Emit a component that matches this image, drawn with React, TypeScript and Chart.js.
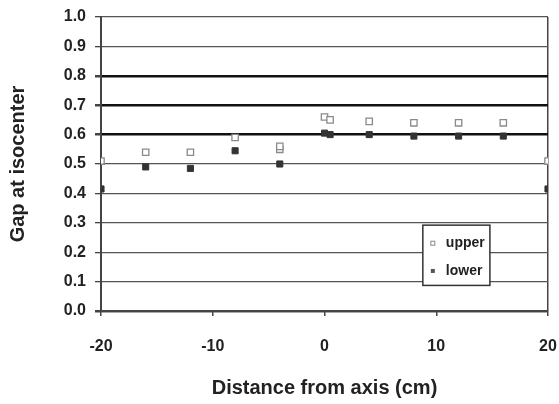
import React, { useEffect, useRef } from "react";
import { Chart, registerables } from "chart.js";

Chart.register(...registerables);

const xUpper = [-20, -16, -12, -8, -4, -4, 0, 0.5, 4, 8, 12, 16, 20];
const yUpper = [0.51, 0.54, 0.54, 0.59, 0.55, 0.56, 0.66, 0.65, 0.645, 0.64, 0.64, 0.64, 0.51];
const xLower = [-20, -16, -12, -8, -4, 0, 0.5, 4, 8, 12, 16, 20];
const yLower = [0.415, 0.49, 0.485, 0.545, 0.50, 0.605, 0.60, 0.60, 0.595, 0.595, 0.595, 0.415];
const seriesNames = ["upper", "lower"];
const xTitle = "Distance from axis (cm)";
const yTitle = "Gap at isocenter";

const FONT = "'Liberation Sans', Arial, sans-serif";

const legendPlugin = {
  id: "insideLegend",
  afterDraw(chart: any) {
    const { ctx, chartArea } = chart;
    const w = chartArea.right - chartArea.left;
    const h = chartArea.bottom - chartArea.top;
    const x0 = chartArea.left + w * 0.72;
    const y0 = chartArea.top + h * 0.708;
    const bw = w * 0.15;
    const bh = h * 0.205;
    ctx.save();
    ctx.fillStyle = "#fff";
    ctx.fillRect(x0, y0, bw, bh);
    ctx.strokeStyle = "#333";
    ctx.lineWidth = 1.5;
    ctx.strokeRect(x0, y0, bw, bh);
    ctx.font = `bold 14px ${FONT}`;
    ctx.textBaseline = "middle";
    const rows = [y0 + bh * 0.3, y0 + bh * 0.76];
    ctx.strokeStyle = "#888";
    ctx.lineWidth = 1;
    ctx.fillStyle = "#fff";
    ctx.fillRect(x0 + 8, rows[0] - 2, 4, 4);
    ctx.strokeRect(x0 + 8, rows[0] - 2, 4, 4);
    ctx.fillStyle = "#555";
    ctx.fillRect(x0 + 8, rows[1] - 2, 4, 4);
    ctx.fillStyle = "#222";
    ctx.fillText(seriesNames[0], x0 + 23, rows[0]);
    ctx.fillText(seriesNames[1], x0 + 23, rows[1]);
    ctx.restore();
  },
};

export default function App() {
  const ref = useRef<HTMLCanvasElement>(null);
  useEffect(() => {
    document.body.style.margin = "0";
    const chart = new Chart(ref.current!, {
      type: "scatter",
      data: {
        datasets: [
          {
            label: seriesNames[0],
            data: xUpper.map((x, i) => ({ x, y: yUpper[i] })),
            pointStyle: "rect",
            pointRadius: 4.5,
            backgroundColor: "#fff",
            borderColor: "#8a8a8a",
            borderWidth: 1.3,
          },
          {
            label: seriesNames[1],
            data: xLower.map((x, i) => ({ x, y: yLower[i] })),
            pointStyle: "rect",
            pointRadius: 4.3,
            backgroundColor: "#333",
            borderColor: "#333",
            borderWidth: 1,
          },
        ],
      },
      options: {
        responsive: false,
        animation: false,
        layout: { padding: { top: 17, right: 11, left: 2, bottom: 0 } },
        plugins: { legend: { display: false }, tooltip: { enabled: false } },
        scales: {
          x: {
            type: "linear",
            min: -20,
            max: 20,
            afterFit: (s: any) => {
              s.height = 93;
              s.paddingLeft = 0;
              s.paddingRight = 0;
            },
            ticks: {
              stepSize: 10,
              color: "#222",
              padding: 21,
              font: { family: FONT, size: 16, weight: "bold" },
            },
            grid: {
              color: (c: any) => (c.tick && c.tick.value === 20 ? "#444" : "rgba(0,0,0,0)"),
              lineWidth: 1.5,
              tickColor: "#444",
              tickLength: 5,
            },
            border: { color: "#444", width: 2 },
            title: {
              display: true,
              text: xTitle,
              color: "#222",
              font: { family: FONT, size: 20, weight: "bold" },
              padding: { top: 10, bottom: 4 },
            },
          },
          y: {
            type: "linear",
            min: 0,
            max: 1,
            afterFit: (s: any) => {
              s.width = 99;
              s.paddingTop = 0;
              s.paddingBottom = 0;
            },
            ticks: {
              stepSize: 0.1,
              color: "#222",
              padding: 9,
              font: { family: FONT, size: 16, weight: "bold" },
              callback: (v: any) => Number(v).toFixed(1),
            },
            grid: {
              color: (c: any) => {
                const v = c.tick ? Math.round(c.tick.value * 10) : -1;
                return v >= 6 && v <= 8 ? "#111" : "#555";
              },
              lineWidth: (c: any) => {
                const v = c.tick ? Math.round(c.tick.value * 10) : -1;
                return v >= 6 && v <= 8 ? 2.5 : v === 0 ? 2.5 : 1.3;
              },
              tickColor: "#444",
              tickLength: 6,
            },
            border: { color: "#444", width: 2 },
            title: {
              display: true,
              text: yTitle,
              color: "#222",
              font: { family: FONT, size: 20, weight: "bold" },
              padding: { top: 4, bottom: 2 },
            },
          },
        },
      },
      plugins: [legendPlugin],
    } as any);
    return () => chart.destroy();
  }, []);
  return <canvas ref={ref} width={559} height={404} style={{ display: "block" }} />;
}
